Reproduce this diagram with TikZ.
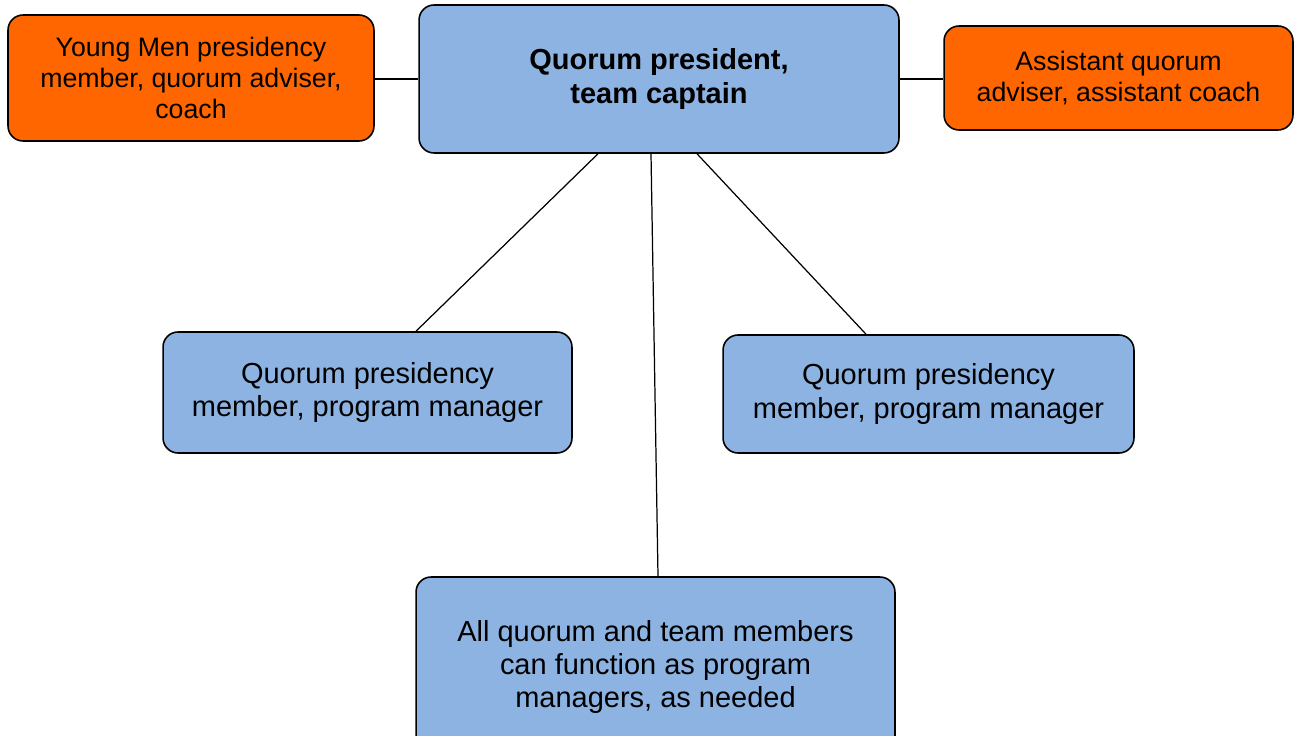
\documentclass[tikz,border=0pt]{standalone}
\usepackage{fontspec}
\setmainfont{Liberation Sans}
\definecolor{leaderblue}{RGB}{141,179,226}
\definecolor{adviserorange}{RGB}{255,102,0}
\begin{document}
\begin{tikzpicture}[x=0.02cm ,y=-0.02cm ,
line width=0.7pt , role/.style ={draw ,line width=0.9pt ,rounded corners=0.3cm ,align=center ,
font=\fontsize{16.5}{18.8}\selectfont},
leader/.style ={role ,fill=leaderblue}, adviser/.style ={role ,fill=adviserorange ,font=\fontsize{15.2}{17.6}\selectfont}]

\useasboundingbox (0,0) rectangle (1295,736);

\node[leader,minimum width=9.6cm,minimum height=2.96cm,font=\fontsize{16.5}{18.8}\selectfont\bfseries] (P) at (659,79) {Quorum president,\\team captain};
\node[adviser,minimum width=7.32cm,minimum height=2.52cm] (YM) at (191,78) {Young Men presidency\\member, quorum adviser,\\coach};
\node[adviser,minimum width=6.98cm,minimum height=2.08cm] (AQ) at (1118.5,78) {Assistant quorum\\adviser, assistant coach};
\path (P.west -| YM.east) edge (P.west);
\path (P.east) edge (P.east -| AQ.west);

%
\node[leader,minimum width=8.18cm,minimum height=2.42cm] (ML) at (367.5,392.5) {Quorum presidency\\member, program manager};
\node[leader,minimum width=8.22cm,minimum height=2.36cm] (MR) at (928.5,394) {Quorum presidency\\member, program manager};
\path ([xshift=-1.22cm]P.south) edge ([xshift=0.97cm]ML.north);
\path ([xshift=0.76cm]P.south) edge ([xshift=-1.25cm]MR.north);

%
\node[leader,minimum width=9.58cm,minimum height=3.6cm] (ALL) at (655.5,667) {All quorum and team members\\can function as program\\managers, as needed};
\path ([xshift=-0.16cm]P.south) edge ([xshift=0.05cm]ALL.north);

\end{tikzpicture}
\end{document}
